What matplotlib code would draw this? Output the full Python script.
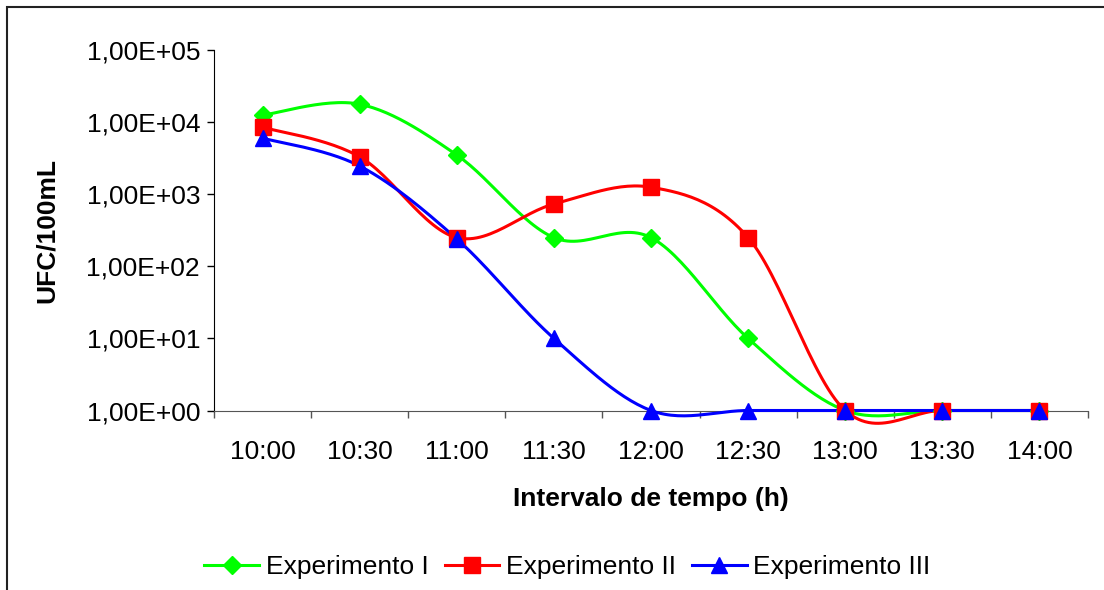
import numpy as np
import matplotlib
matplotlib.use("Agg")
import matplotlib.pyplot as plt
from matplotlib.ticker import FixedLocator, FuncFormatter, NullLocator
from matplotlib.lines import Line2D
from matplotlib.patches import Rectangle

plt.rcParams['font.family'] = ['Liberation Sans', 'DejaVu Sans']

# dados
horas = ['10:00', '10:30', '11:00', '11:30', '12:00', '12:30', '13:00', '13:30', '14:00']
exp1 = [12500, 17700, 3500, 250, 250, 10, 1, 1, 1]
exp2 = [8500, 3300, 250, 730, 1250, 250, 1, 1, 1]
exp3 = [6000, 2460, 240, 10, 1, 1, 1, 1, 1]
nomes = ['Experimento I', 'Experimento II', 'Experimento III']
cores = ['#00ff00', '#ff0000', '#0000ff']
marcadores = ['D', 's', '^']
tam_marc = [9.5, 11, 12]
fs = 19


# linha suavizada tipo Excel (bezier / catmull-rom em espaco log)
def suaviza(x, y, n=30):
    x = np.asarray(x, float)
    y = np.log10(np.asarray(y, float))
    xs, ys = [], []
    m = len(x)
    for i in range(m - 1):
        p0 = (x[max(i - 1, 0)], y[max(i - 1, 0)])
        p1 = (x[i], y[i])
        p2 = (x[i + 1], y[i + 1])
        p3 = (x[min(i + 2, m - 1)], y[min(i + 2, m - 1)])
        c1 = (p1[0] + (p2[0] - p0[0]) / 6, p1[1] + (p2[1] - p0[1]) / 6)
        c2 = (p2[0] - (p3[0] - p1[0]) / 6, p2[1] - (p3[1] - p1[1]) / 6)
        t = np.linspace(0, 1, n)
        for k in range(2):
            pts = [p1[k], c1[k], c2[k], p2[k]]
            b = ((1 - t) ** 3 * pts[0] + 3 * (1 - t) ** 2 * t * pts[1]
                 + 3 * (1 - t) * t ** 2 * pts[2] + t ** 3 * pts[3])
            (xs if k == 0 else ys).append(b)
    return np.concatenate(xs), 10 ** np.concatenate(ys)


fig = plt.figure(figsize=(11.04, 5.90), dpi=100)
ax = fig.add_axes([214 / 1104, 1 - 410.5 / 590, (1088 - 214) / 1104, (410.5 - 50) / 590])

x = np.arange(len(horas))
for serie, cor, mk, ms in zip([exp1, exp2, exp3], cores, marcadores, tam_marc):
    xs, ys = suaviza(x, serie)
    ax.plot(xs, ys, color=cor, lw=2.2, clip_on=False, zorder=3)
    ax.plot(x, serie, ls='none', marker=mk, ms=ms, color=cor, clip_on=False, zorder=4)

ax.set_yscale('log')
ax.set_ylim(1, 1e5)
ax.set_xlim(-0.5, len(horas) - 0.5)
ax.yaxis.set_major_locator(FixedLocator([1, 10, 100, 1e3, 1e4, 1e5]))
ax.yaxis.set_minor_locator(NullLocator())
ax.yaxis.set_major_formatter(FuncFormatter(lambda v, p: '1,00E+%02d' % round(np.log10(v))))

ax.set_xticks(np.arange(len(horas) + 1) - 0.5)
ax.set_xticklabels([])
ax.set_xticks(x, minor=True)
ax.set_xticklabels(horas, minor=True)
ax.tick_params(axis='x', which='major', length=5, width=1, direction='out', color='#555555')
ax.tick_params(axis='x', which='minor', length=0, pad=21, labelsize=fs)
ax.tick_params(axis='y', length=5, width=1, direction='out', labelsize=fs, pad=5)

for s in ['top', 'right']:
    ax.spines[s].set_visible(False)
ax.spines['bottom'].set_color('#555555')
ax.spines['left'].set_color('black')

ax.set_ylabel('UFC/100mL', fontsize=fs, fontweight='bold', labelpad=20)
ax.set_xlabel('Intervalo de tempo (h)', fontsize=fs, fontweight='bold', labelpad=17)

handles = [Line2D([], [], color=c, lw=2.2, marker=m, ms=s) for c, m, s in zip(cores, marcadores, tam_marc)]
fig.legend(handles, nomes, loc='center', bbox_to_anchor=(567.5 / 1104, 1 - 567 / 590), ncol=3,
           frameon=False, fontsize=fs, handlelength=2.08, handletextpad=0.25, columnspacing=0.6)

fig.patches.append(Rectangle((7 / 1104, -0.1), 1.2, 1 - 7 / 590 + 0.1, transform=fig.transFigure,
                             fill=False, edgecolor='#222222', lw=1.5))

fig.savefig('out.png', dpi=100)
